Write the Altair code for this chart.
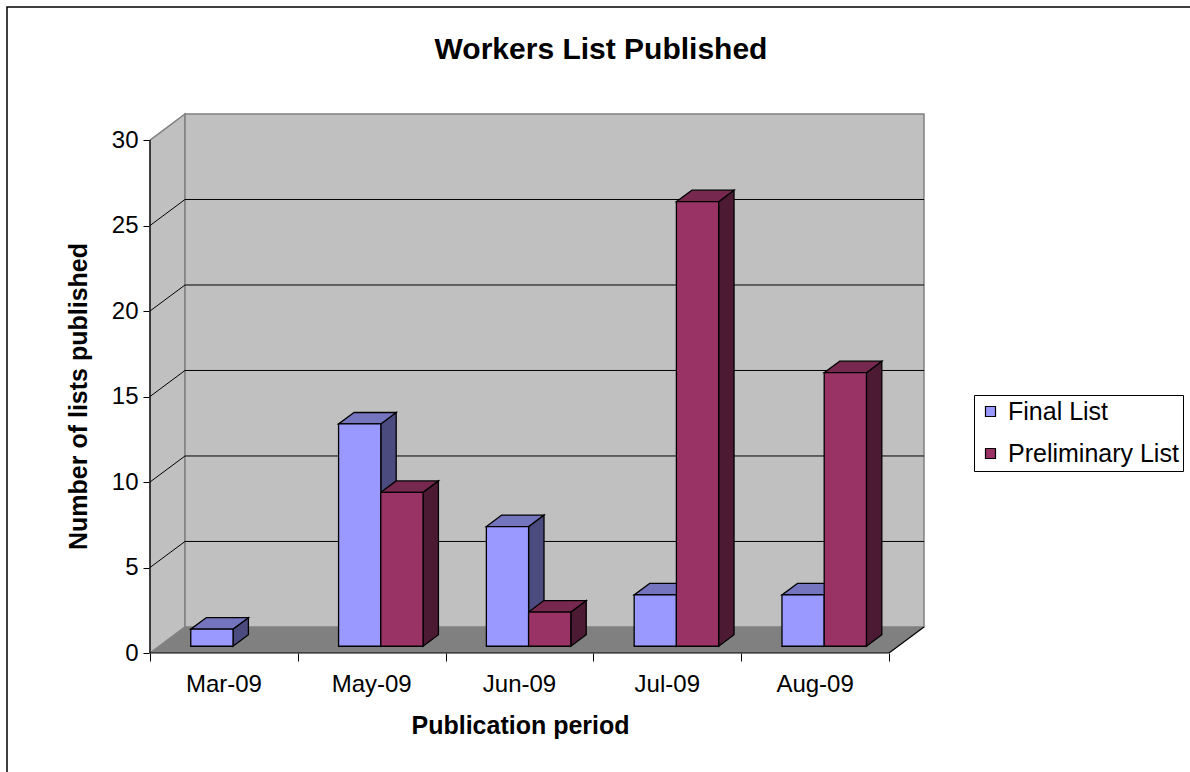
import altair as alt
import pandas as pd

# --- chart data ----------------------------------------------------------
months = ["Mar-09", "May-09", "Jun-09", "Jul-09", "Aug-09"]
final_list = [1, 13, 7, 3, 3]
preliminary_list = [0, 9, 2, 26, 16]
series_names = ["Final List", "Preliminary List"]
y_ticks = [0, 5, 10, 15, 20, 25, 30]

# --- styling ---------------------------------------------------------------
FONT = "Liberation Sans"
front_colors = ["#9999FF", "#993366"]
top_colors = ["#7474BF", "#76284F"]
side_colors = ["#4B4B7F", "#4C1A33"]
WALL = "#C0C0C0"
FLOOR = "#808080"
EDGE = "#808080"

# plot area and oblique-projection geometry
W, H = 774, 539
N = len(months)
Y_MAX = y_ticks[-1]
DEPTH_X = 35 / 147.8      # back-wall shift, in category units
DEPTH_Y = 26 / 17.07      # back-wall shift, in value units
BAR_Z0 = 0.26             # depth of the bar fronts (fraction of floor depth)
BAR_DZ = 0.44             # bar thickness (fraction of floor depth)
GAP = 1.5                 # gap between clusters, relative to one bar
BAR_W = 1 / (len(series_names) + GAP)
BAR_PAD = GAP / 2 * BAR_W

x_scale = alt.Scale(domain=[0, N + DEPTH_X], nice=False, zero=False)
y_scale = alt.Scale(domain=[0, Y_MAX + DEPTH_Y], nice=False, zero=False)

x_axis = alt.Axis(
    values=list(range(N + 1)), labels=False, domain=False, grid=False,
    ticks=True, tickSize=8, tickColor="black", tickWidth=1,
    title="Publication period", titleFontSize=25, titleFontWeight="bold",
    titleColor="black", titleFont=FONT, titleX=370, titleY=80,
    titleAlign="center", titleBaseline="alphabetic",
)
y_axis = alt.Axis(
    values=y_ticks, domain=False, grid=False, tickSize=7, tickColor="black",
    tickWidth=1, labelFontSize=24, labelPadding=5, labelColor="black",
    labelFont=FONT, title="Number of lists published", titleFontSize=25,
    titleFontWeight="bold", titleColor="black", titleFont=FONT,
    titleX=-72, titleY=282, titleAngle=-90, titleAlign="center",
    titleBaseline="middle",
)


def X(field):
    return alt.X(field, type="quantitative", scale=x_scale, axis=x_axis, stack=None)


def Y(field):
    return alt.Y(field, type="quantitative", scale=y_scale, axis=y_axis, stack=None)


# --- box: floor, side wall, back wall, gridlines ----------------------------
floor_df = pd.DataFrame({"y": [0, DEPTH_Y], "xa": [0, DEPTH_X], "xb": [N, N + DEPTH_X]})
floor = alt.Chart(floor_df).mark_area(orient="horizontal", fill=FLOOR).encode(
    y=Y("y"), x=X("xa"), x2="xb"
)

side_wall_df = pd.DataFrame({"x": [0, DEPTH_X], "lo": [0, DEPTH_Y], "hi": [Y_MAX, Y_MAX + DEPTH_Y]})
side_wall = alt.Chart(side_wall_df).mark_area(
    orient="vertical", fill=WALL, stroke=EDGE, strokeWidth=1.5
).encode(x=X("x"), y=Y("lo"), y2="hi")

back_wall_df = pd.DataFrame({"x0": [DEPTH_X], "x1": [N + DEPTH_X], "y0": [DEPTH_Y], "y1": [Y_MAX + DEPTH_Y]})
back_wall = alt.Chart(back_wall_df).mark_rect(
    fill=WALL, stroke=EDGE, strokeWidth=1.5
).encode(x=X("x0"), x2="x1", y=Y("y0"), y2="y1")

grid_rows = []
for v in y_ticks[1:-1]:
    grid_rows.append({"x0": 0, "y0": v, "x1": DEPTH_X, "y1": v + DEPTH_Y})
    grid_rows.append({"x0": DEPTH_X, "y0": v + DEPTH_Y, "x1": N + DEPTH_X, "y1": v + DEPTH_Y})
grid = alt.Chart(pd.DataFrame(grid_rows)).mark_rule(color="black", strokeWidth=1).encode(
    x=X("x0"), y=Y("y0"), x2="x1", y2="y1"
)

edges_df = pd.DataFrame([
    {"x0": 0, "y0": 0, "x1": 0, "y1": Y_MAX},            # value axis line
    {"x0": 0, "y0": 0, "x1": N, "y1": 0},                # category axis line
    {"x0": N, "y0": 0, "x1": N + DEPTH_X, "y1": DEPTH_Y},  # floor right edge
])
edges = alt.Chart(edges_df).mark_rule(color="black", strokeWidth=1.2).encode(
    x=X("x0"), y=Y("y0"), x2="x1", y2="y1"
)

# --- bars as boxes: front rectangle, top and side parallelograms ------------
values = {"Final List": final_list, "Preliminary List": preliminary_list}
ddx, ddy = BAR_DZ * DEPTH_X, BAR_DZ * DEPTH_Y
fronts, tops, sides = [], [], []
for j, name in enumerate(series_names):
    for i, (m, v) in enumerate(zip(months, values[name])):
        if v <= 0:
            continue
        x0 = i + BAR_PAD + j * BAR_W + BAR_Z0 * DEPTH_X
        x1 = x0 + BAR_W
        yb = BAR_Z0 * DEPTH_Y
        yt = yb + v
        key = f"{name}|{m}"
        fronts.append({"series": name, "month": m, "value": v, "x0": x0, "x1": x1, "y0": yb, "y1": yt})
        tops.append({"series": name, "id": key, "y": yt, "xa": x0, "xb": x1})
        tops.append({"series": name, "id": key, "y": yt + ddy, "xa": x0 + ddx, "xb": x1 + ddx})
        sides.append({"series": name, "id": key, "x": x1, "lo": yb, "hi": yt})
        sides.append({"series": name, "id": key, "x": x1 + ddx, "lo": yb + ddy, "hi": yt + ddy})

fronts_df = pd.DataFrame(fronts)
tops_df = pd.DataFrame(tops)
sides_df = pd.DataFrame(sides)

box_layers = []
for j, name in enumerate(series_names):
    box_layers.append(
        alt.Chart(sides_df[sides_df.series == name]).mark_area(
            orient="vertical", fill=side_colors[j], stroke="black", strokeWidth=1.3
        ).encode(x=X("x"), y=Y("lo"), y2="hi", detail="id:N")
    )
    box_layers.append(
        alt.Chart(tops_df[tops_df.series == name]).mark_area(
            orient="horizontal", fill=top_colors[j], stroke="black", strokeWidth=1.3
        ).encode(y=Y("y"), x=X("xa"), x2="xb", detail="id:N")
    )

front_faces = alt.Chart(fronts_df).mark_rect(stroke="black", strokeWidth=1.3).encode(
    x=X("x0"), x2="x1", y=Y("y0"), y2="y1",
    color=alt.Color(
        "series:N",
        scale=alt.Scale(domain=series_names, range=front_colors),
        legend=alt.Legend(
            title=None, orient="none", legendX=824, legendY=281,
            symbolType="square", symbolSize=100, symbolStrokeColor="black",
            symbolStrokeWidth=1.2, labelFontSize=25, labelFont=FONT,
            labelColor="black", labelOffset=5, rowPadding=16, padding=4,
            strokeColor="black", fillColor="white", labelLimit=400,
        ),
    ),
)

# category names centred under each cluster
labels_df = pd.DataFrame({"month": months, "pos": [i + 0.5 for i in range(N)]})
cat_labels = alt.Chart(labels_df).mark_text(
    fontSize=24, font=FONT, color="black", align="center", baseline="alphabetic"
).encode(x=X("pos"), y=alt.value(H + 39), text="month:N")

# outer frame of the chart area
frame = alt.Chart(pd.DataFrame({"k": [0]})).mark_rect(
    fill="white", fillOpacity=0, stroke="black", strokeWidth=1.5
).encode(
    x=alt.value(-143), y=alt.value(-107), x2=alt.value(W + 300), y2=alt.value(H + 150)
)

chart = alt.layer(
    frame, floor, side_wall, back_wall, grid, edges, *box_layers, front_faces, cat_labels
).properties(
    width=W,
    height=H,
    autosize=alt.AutoSizeParams(type="none"),
    padding={"left": 150, "top": 114, "right": 266, "bottom": 119},
    title=alt.TitleParams(
        "Workers List Published", fontSize=30, fontWeight="bold", font=FONT,
        color="black", anchor="middle", dx=64, dy=83, baseline="alphabetic", offset=0,
    ),
).configure(font=FONT, background="white").configure_view(stroke=None)

chart.save("out.html", embed_options={"renderer": "svg", "actions": False})
